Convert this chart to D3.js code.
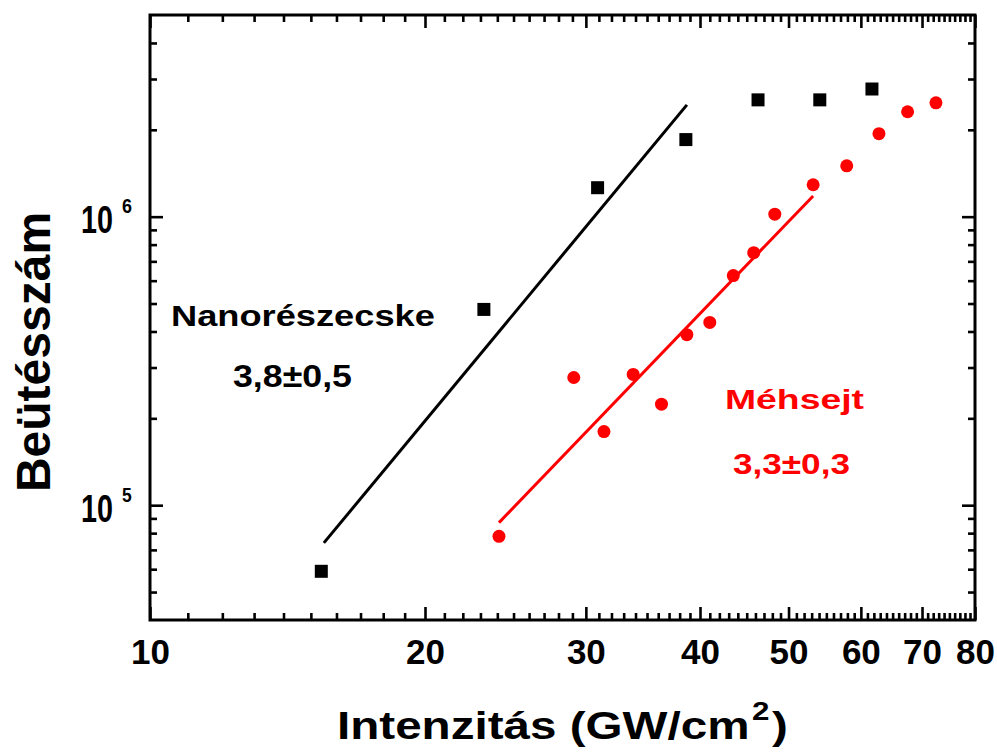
<!DOCTYPE html>
<html><head><meta charset="utf-8">
<script src="https://cdn.jsdelivr.net/npm/d3@7"></script>
<style>
html,body{margin:0;padding:0;background:#fff;}
text,tspan{font-family:"Liberation Sans",Arial,sans-serif;font-weight:bold;}
</style></head>
<body>
<svg id="chart" width="997" height="755"></svg>
<script>
// ---- data ----
const nanoX = [15.4, 23.2, 30.9, 38.6, 46.3, 54.1, 61.7];
const nanoY = [5.9e4, 4.77e5, 1.26e6, 1.85e6, 2.54e6, 2.54e6, 2.77e6];
const honeyX = [24.1, 29.1, 31.4, 33.8, 36.3, 38.7, 41.0, 43.5, 45.8, 48.3, 53.2, 57.9, 62.8, 67.5, 72.5];
const honeyY = [7.8e4, 2.77e5, 1.8e5, 2.84e5, 2.24e5, 3.9e5, 4.3e5, 6.25e5, 7.5e5, 1.02e6, 1.29e6, 1.5e6, 1.94e6, 2.31e6, 2.48e6];
const nanoFitX = [15.5, 38.7];
const nanoFitY = [7.4e4, 2.44e6];
const honeyFitX = [24.1, 53.2];
const honeyFitY = [8.7e4, 1.18e6];
const xMajorTicks = [10, 20, 30, 40, 50, 60, 70, 80];
const yMajorTicks = [1e5, 1e6];
const yTickExponents = ["5", "6"];
const xTitle = "Intenzitás (GW/cm";
const xTitleSup = "2";
const yTitle = "Beütésszám";
const nanoLabel = "Nanorészecske", nanoSlope = "3,8±0,5";
const honeyLabel = "Méhsejt", honeySlope = "3,3±0,3";

// ---- layout ----
const L = 150, R = 975, T = 15, B = 620;
const svg = d3.select("#chart");
const x = d3.scaleLog().domain([10, 80]).range([L, R]);
const y = d3.scaleLog().domain([4e4, 5e6]).range([B, T]);

const xMinor = d3.range(11, 80).filter(v => v % 10 !== 0);
const yMinor = [];
[1e4, 1e5, 1e6].forEach(d => { for (let k = 2; k <= 9; k++) { const v = k * d; if (v > 4e4 && v < 5e6) yMinor.push(v); } });

function fitText(sel, x0, x1) {
  const bb = sel.node().getBBox();
  const sx = (x1 - x0) / bb.width;
  sel.attr("transform", `translate(${x0},0) scale(${sx},1) translate(${-bb.x},0)`);
}

const axStyle = g => {
  g.select(".domain").remove();
  g.attr("font-family", null);
  g.selectAll(".tick line").attr("stroke", "#000").attr("stroke-width", 2.6);
};

// bottom
svg.append("g").attr("transform", `translate(0,${B})`)
  .call(d3.axisBottom(x).tickValues(xMinor).tickSize(-7).tickFormat("")).call(axStyle);
const xb = svg.append("g").attr("transform", `translate(0,${B})`)
  .call(d3.axisBottom(x).tickValues(xMajorTicks).tickSize(-13).tickPadding(19).tickFormat(d3.format("d"))).call(axStyle);
xb.selectAll(".tick text").attr("fill", "#000").attr("font-size", 35);
// top
svg.append("g").attr("transform", `translate(0,${T})`)
  .call(d3.axisTop(x).tickValues(xMinor).tickSize(-7).tickFormat("")).call(axStyle);
svg.append("g").attr("transform", `translate(0,${T})`)
  .call(d3.axisTop(x).tickValues(xMajorTicks).tickSize(-13).tickFormat("")).call(axStyle);
// left
svg.append("g").attr("transform", `translate(${L},0)`)
  .call(d3.axisLeft(y).tickValues(yMinor).tickSize(-7).tickFormat("")).call(axStyle);
const yl = svg.append("g").attr("transform", `translate(${L},0)`)
  .call(d3.axisLeft(y).tickValues(yMajorTicks).tickSize(-13).tickFormat("")).call(axStyle);
yl.selectAll(".tick text").remove();
yl.selectAll(".tick").each(function(d, i) {
  const g = d3.select(this);
  const base = g.append("text").attr("y", 16).attr("font-size", 38).attr("fill", "#000").text("10");
  fitText(base, -69, -37);
  const ex = g.append("text").attr("y", -4).attr("font-size", 21).attr("fill", "#000").text(yTickExponents[i]);
  fitText(ex, -28, -18);
});
// right
svg.append("g").attr("transform", `translate(${R},0)`)
  .call(d3.axisRight(y).tickValues(yMinor).tickSize(-7).tickFormat("")).call(axStyle);
svg.append("g").attr("transform", `translate(${R},0)`)
  .call(d3.axisRight(y).tickValues(yMajorTicks).tickSize(-13).tickFormat("")).call(axStyle);

// frame
svg.append("rect").attr("x", L).attr("y", T).attr("width", R - L).attr("height", B - T)
  .attr("fill", "none").attr("stroke", "#000").attr("stroke-width", 3);

// fit lines
const line = d3.line().x(d => x(d[0])).y(d => y(d[1]));
svg.append("path").datum(d3.zip(nanoFitX, nanoFitY)).attr("d", line)
  .attr("stroke", "#000").attr("stroke-width", 3).attr("fill", "none");
svg.append("path").datum(d3.zip(honeyFitX, honeyFitY)).attr("d", line)
  .attr("stroke", "#ff0000").attr("stroke-width", 3).attr("fill", "none");

// markers
const sq = 13;
svg.append("g").selectAll("rect").data(d3.zip(nanoX, nanoY)).join("rect")
  .attr("x", d => x(d[0]) - sq / 2).attr("y", d => y(d[1]) - sq / 2)
  .attr("width", sq).attr("height", sq).attr("fill", "#000");
svg.append("g").selectAll("circle").data(d3.zip(honeyX, honeyY)).join("circle")
  .attr("cx", d => x(d[0])).attr("cy", d => y(d[1])).attr("r", 6.5).attr("fill", "#ff0000");

// annotations
const a1 = svg.append("text").attr("y", 326).attr("font-size", 29).attr("fill", "#000").text(nanoLabel);
fitText(a1, 171, 435);
const a2 = svg.append("text").attr("y", 387).attr("font-size", 31).attr("fill", "#000").text(nanoSlope);
fitText(a2, 233, 352);
const a3 = svg.append("text").attr("y", 409).attr("font-size", 28).attr("fill", "#ff0000").text(honeyLabel);
fitText(a3, 725, 864);
const a4 = svg.append("text").attr("y", 474).attr("font-size", 30).attr("fill", "#ff0000").text(honeySlope);
fitText(a4, 733, 850);

// axis titles
const xt = svg.append("text").attr("y", 739).attr("font-size", 38).attr("fill", "#000");
xt.append("tspan").text(xTitle);
xt.append("tspan").attr("font-size", 25).attr("dx", 2).attr("dy", -19).text(xTitleSup);
xt.append("tspan").attr("dy", 19).attr("dx", 2).text(")");
fitText(xt, 337, 788);

svg.append("text").attr("transform", "translate(50,352) rotate(-90)")
  .attr("text-anchor", "middle").attr("font-size", 48).attr("fill", "#000").text(yTitle);
</script>
</body></html>
